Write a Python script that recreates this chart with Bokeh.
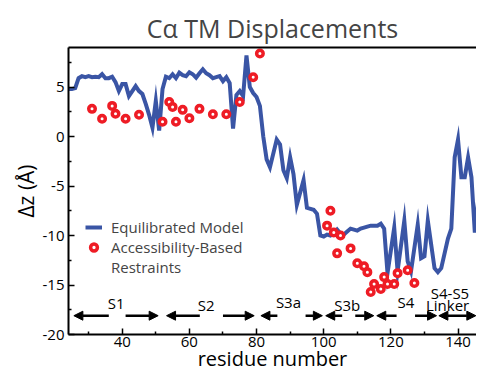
from bokeh.plotting import figure
from bokeh.models import (ColumnDataSource, Range1d, LinearAxis, Arrow, NormalHead,
                          LabelSet, Legend, LegendItem, FixedTicker)
from bokeh.core.properties import value
from bokeh.embed import file_html
from bokeh.resources import INLINE

# ---- data ----
residues = [24, 25, 26, 27, 28, 29, 30, 31, 32, 33, 34, 35, 36, 37, 38, 39, 40, 41, 42, 43,
            44, 45, 46, 47, 48, 49, 50, 51, 52, 53, 54, 55, 56, 57, 58, 59, 60, 61, 62, 63,
            64, 65, 66, 67, 68, 69, 70, 71, 72, 73, 74, 75, 76, 77, 78, 79, 80, 81, 82, 83,
            84, 86, 87, 88, 89, 90, 91, 92, 94, 95, 97, 98, 99, 100, 101, 102, 103, 104, 105, 106,
            107, 108, 109, 110, 111, 112, 113, 114, 115, 116, 117, 118, 119, 121, 122, 124, 125, 126, 128, 129,
            130, 131, 133, 134, 135, 137, 138, 139, 140, 141, 142, 143, 144, 145, 146, 147]
dz_model = [4.8, 4.8, 4.9, 5.9, 6.1, 6.0, 6.1, 6.0, 6.05, 6.0, 6.3, 5.9, 5.9, 6.05, 5.5, 4.6, 5.3, 5.3, 4.1, 4.6,
            5.1, 4.6, 4.3, 3.3, 2.2, 0.9, 3.6, 0.6, 4.8, 6.05, 5.9, 6.3, 5.9, 6.45, 6.2, 6.1, 6.5, 6.3, 5.95, 6.4,
            6.8, 6.4, 6.2, 5.9, 6.0, 6.1, 5.6, 6.0, 5.4, 0.8, 4.2, 4.6, 4.1, 8.2, 5.0, 4.4, 4.0, 3.1, 0.0, -2.3,
            -3.1, -0.3, -0.8, -3.4, -4.2, -2.1, -3.8, -6.9, -4.4, -7.2, -7.4, -7.8, -10.0, -10.1, -9.9, -10.0, -9.8, -9.4, -9.8, -9.9,
            -9.6, -9.3, -9.4, -9.5, -9.3, -9.2, -9.1, -9.0, -9.0, -9.0, -8.8, -9.3, -13.8, -9.2, -13.6, -8.5, -12.6, -13.6, -8.9, -12.3,
            -12.1, -8.5, -13.3, -13.7, -13.3, -10.3, -9.3, -2.1, -0.3, -4.1, -4.1, -2.1, -4.1, -9.7, -6.4, -4.6]

restraint_res = [31, 34, 37, 38, 41, 45, 52, 54, 55, 56, 58, 60, 63, 67, 71, 75, 79, 81,
                 101, 102, 103, 104, 105, 108, 110, 112, 113, 114, 115, 117, 118, 119, 121, 122, 125, 127]
restraint_dz = [2.8, 1.8, 3.1, 2.3, 1.8, 2.2, 1.5, 3.5, 3.0, 1.5, 2.7, 1.85, 2.8, 2.25, 2.25, 3.5, 6.0, 8.4,
                -9.0, -7.5, -9.7, -11.8, -10.0, -11.3, -12.8, -13.1, -13.7, -15.7, -14.9, -15.4, -14.2, -14.9, -14.9, -13.8, -13.5, -14.8]

seg_labels = ["S1", "S2", "S3a", "S3b", "S4", "S4-S5", "Linker"]
seg_label_x = [38.2, 65.0, 89.5, 107.0, 124.5, 137.6, 136.9]
seg_label_y = [-17.4, -17.6, -17.3, -17.6, -17.3, -16.4, -17.6]

arrow_tail_x = [36.0, 41.0, 63.1, 70.0, 86.2, 94.6, 105.5, 109.4, 121.7, 127.2]
arrow_head_x = [25.6, 50.7, 53.2, 79.3, 81.3, 99.6, 100.6, 114.9, 115.8, 133.6]
arrow_y = [-18.1] * len(arrow_tail_x)
linker_x = [134.3, 145.3]
linker_y = [-18.1, -18.1]

x_major = [40, 60, 80, 100, 120, 140]
x_minor = [30, 50, 70, 90, 110, 130]
y_major = [-20, -15, -10, -5, 0, 5]
y_minor = [-17.5, -12.5, -7.5, -2.5, 2.5, 7.5]

FONT = "Open Sans"
BLUE = "#3a55a5"
RED = "#ee1c25"

p = figure(width=476, height=374, x_range=Range1d(24, 145.5), y_range=Range1d(-20, 9),
           output_backend="svg", toolbar_location=None, title="C\u03b1 TM Displacements",
           min_border_left=68, min_border_right=0, min_border_top=47, min_border_bottom=39)
p.title.text_font = FONT
p.title.text_font_size = "25px"
p.title.text_font_style = "normal"
p.title.align = "center"
p.title.standoff = 6
p.title.offset = 5
p.grid.visible = False
p.outline_line_color = None
p.background_fill_color = "white"
p.border_fill_color = "white"

for ax, maj, mnr in ((p.xaxis[0], x_major, x_minor), (p.yaxis[0], y_major, y_minor)):
    ax.ticker = FixedTicker(ticks=maj, minor_ticks=mnr)
    ax.major_label_overrides = {v: str(v) for v in maj}
    ax.major_tick_in = 6
    ax.major_tick_out = 0
    ax.minor_tick_in = 3
    ax.minor_tick_out = 0
    ax.axis_line_width = 2
    ax.major_tick_line_width = 1.5
    ax.minor_tick_line_width = 1.5
    ax.axis_line_color = "black"
    ax.major_label_text_font = FONT
    ax.major_label_text_font_size = "15px"
    ax.major_label_text_color = "black"
    ax.axis_label_text_font = FONT
    ax.axis_label_text_font_style = "normal"
    ax.axis_label_text_color = "black"

p.xaxis.major_label_standoff = 2
p.yaxis.major_label_standoff = 4
p.xaxis.axis_label = "residue number"
p.xaxis.axis_label_text_font_size = "20px"
p.xaxis.axis_label_standoff = -5
p.yaxis.axis_label = "\u0394z (\u00c5)"
p.yaxis.axis_label_text_font_size = "21px"
p.yaxis.axis_label_standoff = 0

top_axis = LinearAxis(ticker=FixedTicker(ticks=[]), major_label_text_font_size="0px",
                      axis_line_width=2, major_tick_line_color=None, minor_tick_line_color=None)
p.add_layout(top_axis, "above")

src_model = ColumnDataSource(dict(x=residues, y=dz_model))
src_restr = ColumnDataSource(dict(x=restraint_res, y=restraint_dz))

model_r = p.line("x", "y", source=src_model, line_color=BLUE, line_width=4, line_join="miter")
red_r = p.scatter("x", "y", source=src_restr, size=6.5, fill_color="white", line_color=RED, line_width=3.5)

arr_src = ColumnDataSource(dict(x0=arrow_tail_x, x1=arrow_head_x, y=arrow_y))
p.add_layout(Arrow(source=arr_src, x_start="x0", x_end="x1", y_start="y", y_end="y",
                   line_width=2.5, line_color="black",
                   end=NormalHead(size=9, fill_color="black", line_color="black", line_width=1)))
p.add_layout(Arrow(x_start=linker_x[0], x_end=linker_x[1], y_start=linker_y[0], y_end=linker_y[1],
                   line_width=2.5, line_color="black",
                   start=NormalHead(size=9, fill_color="black", line_color="black", line_width=1),
                   end=NormalHead(size=9, fill_color="black", line_color="black", line_width=1)))

lab_src = ColumnDataSource(dict(x=seg_label_x, y=seg_label_y, t=seg_labels))
p.add_layout(LabelSet(x="x", y="y", text="t", source=lab_src, text_font=value(FONT),
                      text_font_size=value("15px"), text_align="center", text_baseline="alphabetic",
                      text_color="black"))

legend = Legend(items=[LegendItem(label="Equilibrated Model", renderers=[model_r]),
                       LegendItem(label="Accessibility-Based", renderers=[red_r]),
                       LegendItem(label="Restraints", renderers=[])],
                location=(17, 57), border_line_color=None, background_fill_alpha=0,
                label_text_font=FONT, label_text_font_size="15px", label_standoff=9,
                glyph_width=17, glyph_height=20, label_height=20, spacing=0, padding=0, margin=0)
p.add_layout(legend, "center")

open("out.html", "w").write(file_html(p, INLINE))
